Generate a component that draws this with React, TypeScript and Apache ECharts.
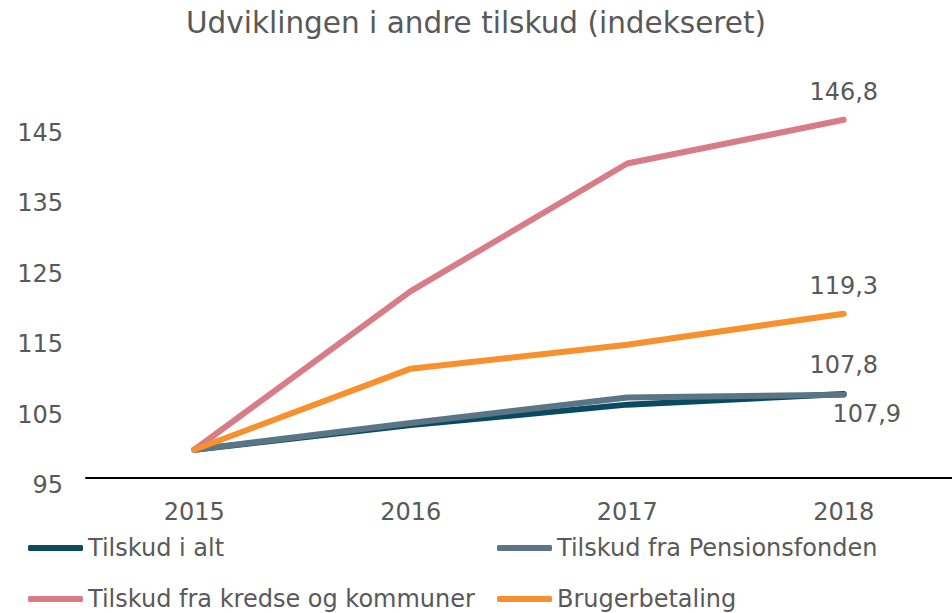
import React, { useEffect, useRef } from "react";
import * as echarts from "echarts";

const years = ["2015", "2016", "2017", "2018"];
const tilskudIAlt = [100, 103.5, 106.4, 107.9];
const pensionsfonden = [100, 103.8, 107.4, 107.8];
const kredseKommuner = [100, 122.5, 140.6, 146.8];
const brugerbetaling = [100, 111.5, 114.9, 119.3];

const names = [
  "Tilskud i alt",
  "Tilskud fra Pensionsfonden",
  "Tilskud fra kredse og kommuner",
  "Brugerbetaling",
];
const colors = ["#0A4A60", "#5A7585", "#D87D87", "#F7902D"];

const FONT = "DejaVu Sans";
const TEXT = "#595959";

function lastLabelData(values: number[], labelOpts: any) {
  return values.map((v, i) =>
    i === values.length - 1 ? { value: v, label: { show: true, ...labelOpts } } : v
  );
}

export default function App() {
  const ref = useRef<HTMLDivElement>(null);
  useEffect(() => {
    if (!ref.current) return;
    const chart = echarts.init(ref.current, null, { renderer: "svg" });
    const labelBase = {
      fontFamily: FONT,
      fontSize: 24,
      color: TEXT,
      formatter: (p: any) => String(p.value).replace(".", ","),
    };
    const mkSeries = (i: number, values: number[], labelOpts: any) => ({
      name: names[i],
      type: "line",
      data: lastLabelData(values, { ...labelBase, ...labelOpts }),
      symbol: "circle",
      symbolSize: 0,
      showSymbol: true,
      label: { show: false },
      lineStyle: { color: colors[i], width: 6, cap: "round", join: "round" },
      itemStyle: { color: colors[i] },
      z: 2 + i,
    });
    const legendPos = [
      { left: 28, top: 536 },
      { left: 497, top: 536 },
      { left: 28, top: 587 },
      { left: 497, top: 587 },
    ];
    chart.setOption({
      animation: false,
      backgroundColor: "#ffffff",
      title: {
        text: "Udviklingen i andre tilskud (indekseret)",
        left: "center",
        top: 3,
        textStyle: { fontFamily: FONT, fontSize: 29.5, fontWeight: "normal", color: TEXT },
      },
      legend: names.map((n, i) => ({
        data: [{ name: n, icon: "roundRect" }],
        left: legendPos[i].left,
        top: legendPos[i].top,
        padding: 0,
        itemWidth: 55,
        itemHeight: 6,
        textStyle: { fontFamily: FONT, fontSize: 24, color: TEXT, lineHeight: 24 },
      })),
      grid: { left: 86, width: 871, top: 97.25, height: 387.75 },
      xAxis: {
        type: "category",
        data: years,
        boundaryGap: true,
        offset: -7,
        axisLine: { lineStyle: { color: "#000000", width: 2 } },
        axisTick: { show: false },
        axisLabel: { fontFamily: FONT, fontSize: 24, color: TEXT, margin: 22 },
      },
      yAxis: {
        type: "value",
        min: 95,
        max: 150,
        interval: 10,
        axisLine: { show: false },
        axisTick: { show: false },
        splitLine: { show: false },
        axisLabel: {
          fontFamily: FONT,
          fontSize: 24,
          color: TEXT,
          margin: 23,
          showMaxLabel: false,
        },
      },
      series: [
        mkSeries(0, tilskudIAlt, { position: "bottom", distance: 12, offset: [23, -4] }),
        mkSeries(1, pensionsfonden, { position: "top", distance: 18 }),
        mkSeries(2, kredseKommuner, { position: "top", distance: 16 }),
        mkSeries(3, brugerbetaling, { position: "top", distance: 16 }),
      ],
    });
    return () => chart.dispose();
  }, []);
  return (
    <div
      ref={ref}
      style={{ position: "fixed", left: 0, top: 0, width: 952, height: 613 }}
    />
  );
}
